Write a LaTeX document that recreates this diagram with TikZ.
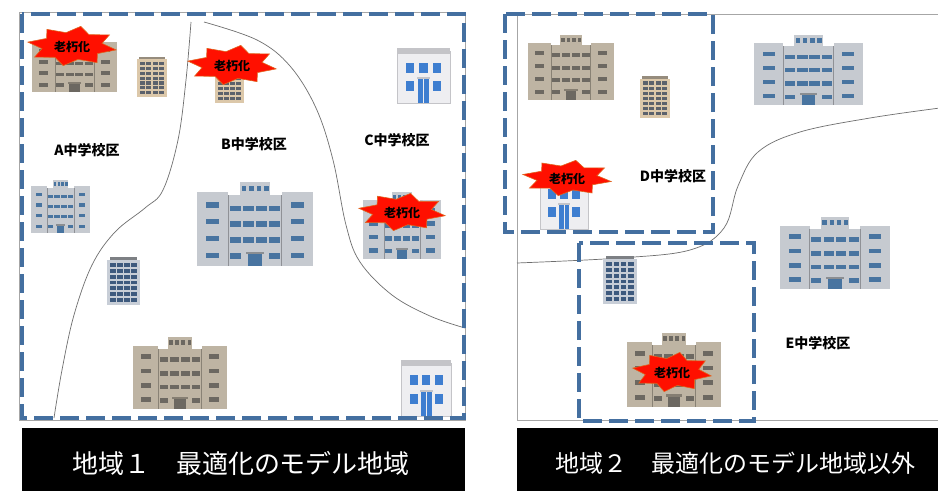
\documentclass[tikz,border=0pt]{standalone}
\usepackage{fontspec}
\setmainfont{Noto Sans CJK JP}
\definecolor{zoneblue}{RGB}{68,111,160}
\definecolor{beigewall}{RGB}{190,180,163}
\definecolor{beigewin}{RGB}{108,104,97}
\definecolor{graywall}{RGB}{198,202,208}
\definecolor{graywin}{RGB}{72,116,160}
\definecolor{towerbeige}{RGB}{220,200,170}
\definecolor{towerbeigewin}{RGB}{92,98,108}
\definecolor{towerbeigecap}{RGB}{150,140,125}
\definecolor{towergray}{RGB}{200,206,215}
\definecolor{towergraywin}{RGB}{62,90,126}
\definecolor{towergraycap}{RGB}{125,128,132}
\definecolor{housewall}{RGB}{238,238,241}
\definecolor{houseedge}{RGB}{196,196,200}
\definecolor{housewin}{RGB}{62,126,208}
\definecolor{burstred}{RGB}{255,16,0}
\definecolor{burstedge}{RGB}{225,100,30}
\definecolor{linegray}{RGB}{110,110,110}

% large building: x, y (top left), width, height, wall colour, window colour
\newcommand\bigbldg[6]{%
\begin{scope}[shift={(#1,#2)},x={(#3pt,0pt)},y={(0pt,-#4pt)}]
 \fill[#5] (0.37,0) rectangle (0.63,0.17);
 \fill[#5] (0,0.12) rectangle (0.27,1);
 \fill[#5] (0.73,0.12) rectangle (1,1);
 \fill[#5] (0.26,0.16) rectangle (0.74,1);
 \draw[#5!72!black,line width=0.7pt] (0.27,0.16) -- (0.27,1) (0.73,0.16) -- (0.73,1);
 \foreach \xx in {0.405,0.47,0.535,0.6} \fill[#6] (\xx-0.02,0.045) rectangle (\xx+0.02,0.11);
 \foreach \yy in {0.24,0.44,0.64,0.84} {
   \fill[#6] (0.08,\yy) rectangle (0.19,\yy+0.065);
   \fill[#6] (0.81,\yy) rectangle (0.92,\yy+0.065);}
 \foreach \yy in {0.28,0.47,0.66} \foreach \xx in {0.33,0.445,0.555,0.67}
   \fill[#6] (\xx-0.047,\yy) rectangle (\xx+0.047,\yy+0.065);
 \fill[#6] (0.283,0.85) rectangle (0.377,0.915);
 \fill[#6] (0.623,0.85) rectangle (0.717,0.915);
 \fill[#5!70!black] (0.42,0.83) rectangle (0.58,0.86);
 \fill[#6] (0.44,0.86) rectangle (0.56,1);
\end{scope}}

% narrow tower: x, y, width, height, wall, window, roof cap
\newcommand\towerbldg[7]{%
\begin{scope}[shift={(#1,#2)},x={(#3pt,0pt)},y={(0pt,-#4pt)}]
 \fill[#7] (0.08,0) rectangle (0.92,0.07);
 \fill[#5] (0,0.06) rectangle (1,1);
 \foreach \xx in {0,1,2,3} \foreach \yy in {0,...,6}
   \fill[#6] (0.1+\xx*0.21,0.13+\yy*0.12) rectangle (0.27+\xx*0.21,0.21+\yy*0.12);
\end{scope}}

% small two-storey house: x, y, width, height
\newcommand\housebldg[4]{%
\begin{scope}[shift={(#1,#2)},x={(#3pt,0pt)},y={(0pt,-#4pt)}]
 \filldraw[fill=housewall,draw=houseedge,line width=0.6pt] (0,0.06) rectangle (1,1);
 \fill[houseedge] (0,0) rectangle (1,0.1);
 \foreach \xx in {0.17,0.42,0.67} \fill[housewin] (\xx,0.27) rectangle (\xx+0.16,0.45);
 \fill[housewin] (0.17,0.6) rectangle (0.33,0.78);
 \fill[housewin] (0.67,0.6) rectangle (0.83,0.78);
 \fill[houseedge] (0.37,0.53) rectangle (0.63,0.57);
 \fill[housewin] (0.39,0.57) rectangle (0.61,1);
 \draw[housewall,line width=0.5pt] (0.5,0.57) -- (0.5,1);
\end{scope}}

% red burst with caption: centre x, centre y, radius x, radius y, node name
\newcommand\burstmark[5]{%
\filldraw[fill=burstred,draw=burstedge,line width=0.6pt,line join=miter]
  plot[samples at={0,...,15}] ({#1+#3*(0.84+0.16*cos(\x*180))*cos(\x*22.5+11.25)},
                              {#2+#4*(0.84+0.16*cos(\x*180))*sin(\x*22.5+11.25)}) -- cycle;
\node[burstlabel] (#5) at (#1,#2+1) {老朽化};}

\tikzset{
  zonebox/.style={draw=zoneblue,line width=4.5pt,dash pattern=on 19pt off 7pt},
  panelframe/.style={draw=gray!70,line width=0.7pt},
  boundary/.style={draw=linegray,line width=0.7pt},
  arealabel/.style={font=\bfseries\fontsize{14}{14}\selectfont,inner sep=0pt},
  burstlabel/.style={font=\bfseries\fontsize{12}{12}\selectfont,inner sep=0pt},
  bandtext/.style={text=white,inner sep=0pt},
}

\begin{document}
\begin{tikzpicture}[x=1pt,y=-1pt]
\useasboundingbox (0,0) rectangle (938,493);
\fill[white] (0,0) rectangle (938,493);

% ---------- region 1 ----------
\draw[panelframe] (19,12) rectangle (465,420);
\draw[boundary] plot[smooth,tension=0.6] coordinates
  {(191,22) (186,80) (178,140) (163,190) (145,208) (115,232) (92,265) (74,315) (62,370) (54,418)};
\draw[boundary] plot[smooth,tension=0.6] coordinates
  {(204,22) (257,40) (290,66) (316,108) (333,160) (346,225) (360,262) (392,295) (430,316) (465,328)};

\bigbldg{32}{35}{85}{57}{beigewall}{beigewin}
\towerbldg{137}{57}{30}{40}{towerbeige}{towerbeigewin}{towerbeigecap}
\towerbldg{215}{62}{29}{41}{towerbeige}{towerbeigewin}{towerbeigecap}
\housebldg{397}{48}{53}{55}
\bigbldg{31}{180}{59}{53}{graywall}{graywin}
\bigbldg{197}{182}{116}{84}{graywall}{graywin}
\bigbldg{363}{192}{78}{67}{graywall}{graywin}
\towerbldg{107}{257}{33}{48}{towergray}{towergraywin}{towergraycap}
\bigbldg{133}{337}{94}{72}{beigewall}{beigewin}
\housebldg{401}{360}{50}{56}

\burstmark{72}{46}{45}{20}{oldA}
\burstmark{232}{65}{45}{20}{oldB}
\burstmark{402}{212}{44}{19}{oldC}

\node[arealabel] (areaA) at (87,150) {A中学校区};
\node[arealabel] (areaB) at (254,144) {B中学校区};
\node[arealabel] (areaC) at (397,140) {C中学校区};

\draw[zonebox] (22,14) rectangle (464,418);

\fill[black] (22,428) rectangle (465,491);
\node[bandtext,font=\fontsize{26}{26}\selectfont] (band1) at (241,463) {地域１　最適化のモデル地域};

% ---------- region 2 ----------
\draw[panelframe] (517,14) -- (940,14) (517,14) -- (517,420) -- (940,420);
\draw[boundary] plot[smooth,tension=0.6] coordinates
  {(517,263) (620,258) (690,250) (724,228) (738,186) (758,152) (800,132) (870,118) (940,108)};

\bigbldg{528}{35}{86}{65}{beigewall}{beigewin}
\towerbldg{640}{76}{30}{42}{towerbeige}{towerbeigewin}{towerbeigecap}
\bigbldg{754}{35}{109}{70}{graywall}{graywin}
\housebldg{540}{174}{48}{55}
\towerbldg{603}{256}{34}{48}{towergray}{towergraywin}{towergraycap}
\bigbldg{780}{217}{110}{72}{graywall}{graywin}
\bigbldg{627}{333}{94}{74}{beigewall}{beigewin}

\burstmark{567}{178}{45}{18}{oldD}
\burstmark{672}{372}{40}{20}{oldE}

\node[arealabel] (areaD) at (673,176) {D中学校区};
\node[arealabel] (areaE) at (818,343) {E中学校区};

\draw[zonebox] (505,14) rectangle (713,232);
\draw[zonebox] (579,243) rectangle (754,421);

\fill[black] (517,428) rectangle (938,491);
\node[bandtext,font=\fontsize{24}{24}\selectfont] (band2) at (735,463) {地域２　最適化のモデル地域以外};
\end{tikzpicture}
\end{document}
